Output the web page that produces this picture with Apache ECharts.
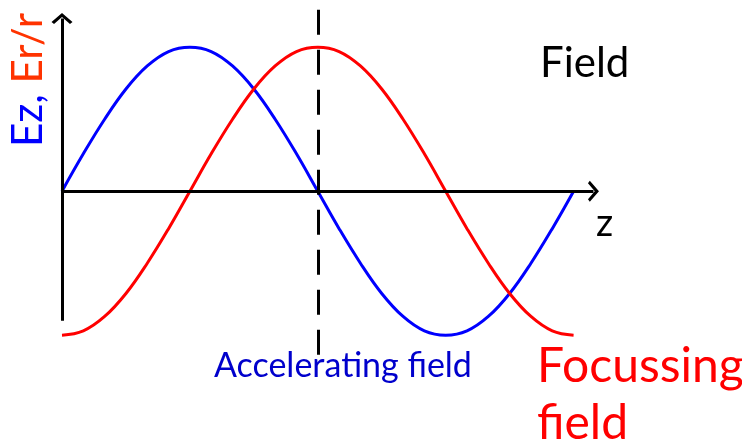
<!DOCTYPE html>
<html>
<head>
<meta charset="utf-8">
<title>Ez, Er/r field</title>
<script src="https://cdn.jsdelivr.net/npm/echarts@6/dist/echarts.min.js"></script>
<style>
  html, body { margin: 0; padding: 0; background: #fff; }
  #chart { width: 742px; height: 443px; }
</style>
</head>
<body>
<div id="chart"></div>
<script>
// phase along z, in degrees
var zPhase = [0, 15, 30, 45, 60, 75, 90, 105, 120, 135, 150, 165, 180,
              195, 210, 225, 240, 255, 270, 285, 300, 315, 330, 345, 360];
// Ez (blue)
var ezValues = [0, 0.26, 0.5, 0.71, 0.87, 0.97, 1, 0.97, 0.87, 0.71, 0.5, 0.26, 0,
                -0.26, -0.5, -0.71, -0.87, -0.97, -1, -0.97, -0.87, -0.71, -0.5, -0.26, 0];
// Er/r (red)
var erValues = [-1, -0.97, -0.87, -0.71, -0.5, -0.26, 0, 0.26, 0.5, 0.71, 0.87, 0.97, 1,
                0.97, 0.87, 0.71, 0.5, 0.26, 0, -0.26, -0.5, -0.71, -0.87, -0.97, -1];
// axis extents and the dashed marker
var zAxisEnd = 374;
var fieldAxisLow = -0.9;
var fieldAxisHigh = 1.2;
var markerZ = 180;
var markerLow = -1.17;
var markerHigh = 1.26;

var labelFont = 'Lato, "Open Sans", sans-serif';
var chevron = 'path://M0,10 L10,0 L20,10 L17.6,12 L10,4.6 L2.4,12 Z';

function pairs(xs, ys) {
    var out = [];
    for (var i = 0; i < xs.length; i++) out.push([xs[i], ys[i]]);
    return out;
}

var chart = echarts.init(document.getElementById('chart'), null, { renderer: 'canvas' });

var option = {
    animation: false,
    backgroundColor: '#fff',
    grid: { left: 62, top: 4, width: 540, height: 360, containLabel: false },
    xAxis: {
        type: 'value', min: 0, max: 380,
        axisLine: { show: false }, axisTick: { show: false },
        axisLabel: { show: false }, splitLine: { show: false }
    },
    yAxis: {
        type: 'value', min: -1.2, max: 1.3,
        axisLine: { show: false }, axisTick: { show: false },
        axisLabel: { show: false }, splitLine: { show: false }
    },
    series: [
        {
            name: 'Ez', type: 'line', data: pairs(zPhase, ezValues),
            smooth: 0.4, showSymbol: false, z: 2,
            lineStyle: { color: '#0000ff', width: 3 }
        },
        {
            name: 'Er/r', type: 'line', data: pairs(zPhase, erValues),
            smooth: 0.4, showSymbol: false, z: 2,
            lineStyle: { color: '#ff0000', width: 3 }
        },
        {
            //坐标轴和虚线
            name: 'axes', type: 'line', data: [], z: 3,
            markLine: {
                silent: true, animation: false,
                label: { show: false },
                symbol: ['none', chevron], symbolSize: [21, 11],
                lineStyle: { color: '#000', width: 3, type: 'solid' },
                data: [
                    [{ coord: [0, 0] }, { coord: [zAxisEnd, 0] }],
                    [{ coord: [0, fieldAxisLow] }, { coord: [0, fieldAxisHigh] }],
                    [
                        { coord: [markerZ, markerHigh], symbol: 'none',
                          lineStyle: { type: [25, 15], width: 3, color: '#000' } },
                        { coord: [markerZ, markerLow], symbol: 'none' }
                    ]
                ]
            }
        }
    ],
    graphic: [
        {
            type: 'text', x: 28, y: 80, rotation: Math.PI / 2,
            style: {
                text: '{b|Ez,} {r|Er/r}',
                align: 'center', verticalAlign: 'middle',
                font: '42px ' + labelFont,
                rich: {
                    b: { fill: '#0000ff', font: '42px ' + labelFont },
                    r: { fill: '#ff3300', font: '42px ' + labelFont }
                }
            }
        },
        {
            type: 'text', x: 540, y: 63,
            style: { text: 'Field', fill: '#000', font: '42px ' + labelFont, verticalAlign: 'middle' }
        },
        {
            type: 'text', x: 596, y: 224,
            style: { text: 'z', fill: '#000', font: '38px ' + labelFont, verticalAlign: 'middle' }
        },
        {
            type: 'text', x: 214, y: 366,
            style: { text: 'Accelerating field', fill: '#0000cc', font: '34px ' + labelFont, verticalAlign: 'middle' }
        },
        {
            type: 'text', x: 537, y: 367,
            style: { text: 'Focussing', fill: '#ff0000', font: '48px ' + labelFont, verticalAlign: 'middle' }
        },
        {
            type: 'text', x: 537, y: 424,
            style: { text: 'field', fill: '#ff0000', font: '48px ' + labelFont, verticalAlign: 'middle' }
        }
    ]
};

chart.setOption(option);
</script>
</body>
</html>
